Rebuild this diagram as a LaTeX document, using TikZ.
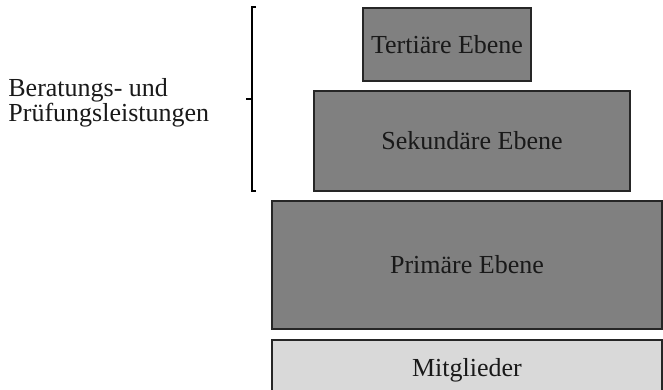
\documentclass[tikz,border=0pt]{standalone}
\usepackage{fontspec}
\setmainfont{Liberation Serif}
\usepackage{tikz}
\usetikzlibrary{positioning}

\definecolor{ebenegrau}{HTML}{808080}
\definecolor{basisgrau}{HTML}{D9D9D9}

\tikzset{
  ebene/.style={draw=black!85, line width=1pt, fill=ebenegrau, inner sep=0pt,
    text=black!90, font=\fontsize{13}{16}\selectfont},
  basis/.style={ebene, fill=basisgrau}
}

\begin{document}
\begin{tikzpicture}[x=0.5pt, y=-0.5pt]
    \useasboundingbox (0,0) rectangle (663,390);
    \def \lw {0.5pt} % one pixel of the reference
    \node[ebene, anchor=north west, minimum width=168*\lw, minimum height=73*\lw]
      (tert) at (362,7) {Terti\"are Ebene};
    \node[ebene, anchor=north west, minimum width=316*\lw, minimum height=100*\lw]
      (sek) at (313,90) {Sekund\"are Ebene};
    \node[ebene, anchor=north west, minimum width=390*\lw, minimum height=128*\lw]
      (prim) at (271,200) {Prim\"are Ebene};
    \node[basis, minimum width=390*\lw, minimum height=60*\lw,
      below=4.5pt of prim.south west, anchor=north west]
      (mitgl) {Mitglieder};
    % bracket
    \coordinate (klo) at (256,7);
    \coordinate (klu) at (256,191);
    \coordinate (klm) at (246,99);
    \draw[line width=0.7pt] (klo) -- ++(-4,0) |- (klu);
    \draw[line width=0.7pt] (klm) -- ++(6,0);
    \node[anchor=west, inner sep=0pt, align=left, font=\fontsize{13}{12.5}\selectfont,
      text=black!90] (leistung) at (8,103)
      {Beratungs- und\\Pr\"ufungsleistungen};
\end{tikzpicture}
\end{document}
